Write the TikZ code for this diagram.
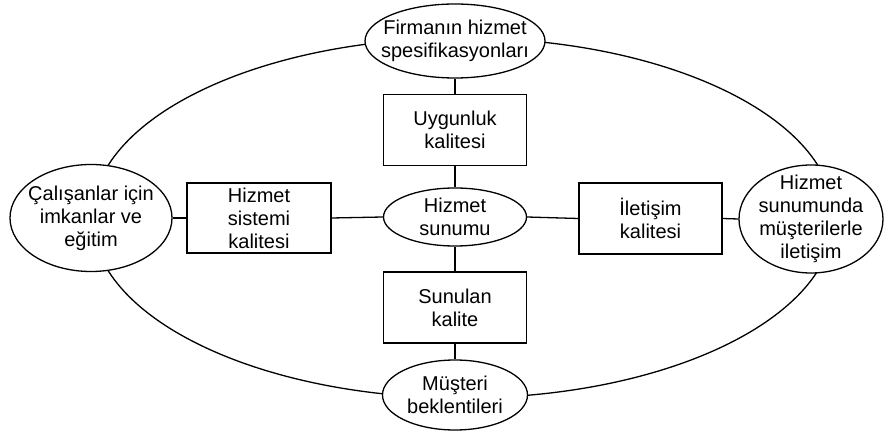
\documentclass[tikz,border=0pt]{standalone}
\usepackage{fontspec}
\setmainfont{Liberation Sans}
\usetikzlibrary{shapes.geometric}
\begin{document}
\begin{tikzpicture}[x=1pt,y=-1pt,
  lw/.style={line width=1.3pt},
  lbl/.style={font=\fontsize{20}{23}\selectfont, align=center, inner sep=0pt},
  % oval of fixed size, its text set as a centred label
  oval/.style={lw, draw, fill=white, ellipse, inner sep=0pt,
    label={[lbl]center:#1}},
  kutu/.style={lbl, lw, draw, fill=white, rectangle},
  link/.style={lw}]
\useasboundingbox (0,0) rectangle (891,435);

% outer ring joining the four outer ovals
\coordinate (ring) at (463,218);
\draw[lw] (ring) ellipse [x radius=371, y radius=180];

% outer ovals
\node[oval={Firmanın hizmet\\spesifikasyonları}, minimum width=180, minimum height=74] (spec) at (455,41) {};
\node[oval={Çalışanlar için\\imkanlar ve\\eğitim}, minimum width=162, minimum height=107] (egitim) at (91,218) {};
\node[oval={Hizmet\\sunumunda\\müşterilerle\\iletişim}, minimum width=144, minimum height=108] (ilet) at (811,219) {};
\node[oval={Müşteri\\beklentileri}, minimum width=145, minimum height=70] (bekl) at (455,395) {};

% centre oval
\node[oval={Hizmet\\sunumu}, minimum width=143, minimum height=58] (sunum) at (455,217) {};

% quality boxes
\node[kutu, minimum width=143, minimum height=71] (uyg) at (455,130) {Uygunluk\\kalitesi};
\node[kutu, minimum width=144, minimum height=70] (sist) at (259,218) {Hizmet\\sistemi\\kalitesi};
\node[kutu, minimum width=143, minimum height=71] (iletk) at (650.5,218.5) {İletişim\\kalitesi};
\node[kutu, minimum width=143, minimum height=71] (sunk) at (455,307.5) {Sunulan\\kalite};

% connectors
\draw[link] (spec.south) -- (uyg.north);
\draw[link] (uyg.south) -- (sunum.north);
\draw[link] (sunum.south) -- (sunk.north);
\draw[link] (sunk.south) -- (bekl.north);
\draw[link] (egitim.east) -- (sist.west);
\draw[link] (sist.east) -- (sunum.west);
\draw[link] (sunum.east) -- (iletk.west);
\draw[link] (iletk.east) -- (ilet.west);
\end{tikzpicture}
\end{document}
